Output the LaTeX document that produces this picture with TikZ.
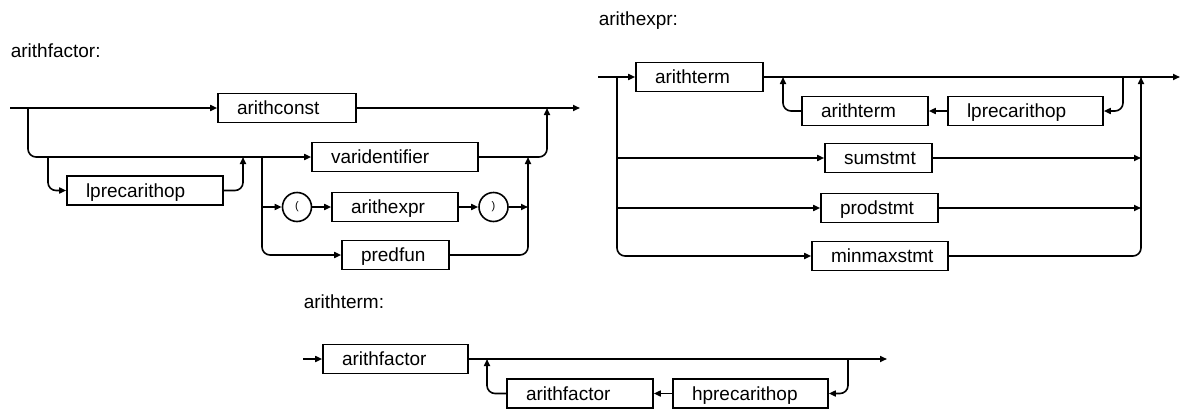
\documentclass[tikz,border=0pt]{standalone}
\usepackage{fontspec}
\setmainfont{Liberation Sans}
\usetikzlibrary{arrows.meta}

\begin{document}
\begin{tikzpicture}[
        x=1pt, y=-1pt,
        line width=1.6pt,
        >={Triangle[length=7pt,width=6pt]},
        ntbox/.style={
            draw=black,
            rectangle,
            align=left,
            inner xsep=19pt,
            inner ysep=0pt,
            minimum height=29pt,
            text height=14pt,
            text depth=1pt,
            font=\fontsize{19}{23}\selectfont
        },
        tmbox/.style={
            draw=black,
            circle,
            minimum size=29pt,
            inner sep=0pt,
            font=\fontsize{11}{13}\selectfont
        },
        rulename/.style={
            anchor=base west,
            inner sep=0pt,
            font=\fontsize{19}{23}\selectfont
        },
        conn/.style={->, rounded corners=8pt}
    ]

    \useasboundingbox (0,0) rectangle (1187,410);

    % arithfactor
    \node[rulename] (tfac) at (10,57) {arithfactor:};
    \node[ntbox, text width=100pt] (aconst) at (287,108)   {arithconst};
    \node[ntbox, text width=118pt] (lpa1)   at (145,190.5) {lprecarithop};
    \node[ntbox, text width=128pt] (vid)    at (395,157)   {varidentifier};
    \node[tmbox]                   (lpar)   at (297,207)   {(};
    \node[ntbox, text width=88pt]  (aexp)   at (395,207)   {arithexpr};
    \node[tmbox]                   (rpar)   at (493.5,207) {)};
    \node[ntbox, text width=69pt]  (pfun)   at (395.5,255) {predfun};

    \coordinate (fa-in)  at (10,108);
    \coordinate (fa-out) at (580,108);
    \coordinate (fa-s1)  at (28,108);
    \coordinate (fa-s2)  at (48,157);
    \coordinate (fa-m1)  at (243,157);
    \coordinate (fa-j1)  at (262,157);
    \coordinate (fa-m2)  at (528,157);
    \coordinate (fa-m3)  at (547,108);

    \draw[->] (fa-in) -- (aconst);
    \draw[->] (aconst) -- (fa-out);
    \draw[conn] (fa-s1) |- (vid.west);
    \draw[conn] (fa-s2) |- (lpa1.west);
    \draw[conn] (lpa1.east) -| (fa-m1);
    \draw[conn] (fa-j1) |- (pfun.west);
    \draw[->] (fa-j1 |- lpar.west) -- (lpar);
    \draw[->] (lpar) -- (aexp);
    \draw[->] (aexp) -- (rpar);
    \draw[->] (rpar.east) -- (rpar.east -| fa-m2);
    \draw[conn] (pfun.east) -| (fa-m2);
    \draw[conn] (vid.east) -| (fa-m3);

    % arithexpr
    \node[rulename] (texp) at (598,25) {arithexpr:};
    \node[ntbox, text width=89pt]  (aterm)  at (699.5,77) {arithterm};
    \node[ntbox, text width=88pt]  (aterm2) at (865,111)  {arithterm};
    \node[ntbox, text width=117pt] (lpa2)   at (1025.5,111) {lprecarithop};
    \node[ntbox, text width=69pt]  (sum)    at (878.5,158) {sumstmt};
    \node[ntbox, text width=79pt]  (prod)   at (879.5,208) {prodstmt};
    \node[ntbox, text width=98pt]  (mmx)    at (880,256)   {minmaxstmt};

    \coordinate (ex-in)  at (598,77);
    \coordinate (ex-out) at (1180,77);
    \coordinate (ex-s)   at (617,77);
    \coordinate (ex-m)   at (1141,77);
    \coordinate (ex-l1)  at (1123,77);
    \coordinate (ex-l2)  at (783,77);

    \draw[->] (ex-in) -- (aterm);
    \draw[->] (aterm) -- (ex-out);
    \draw[conn] (ex-l1) |- (lpa2.east);
    \draw[->] (lpa2) -- (aterm2);
    \draw[conn] (aterm2.west) -| (ex-l2);
    \draw[conn] (ex-s) |- (mmx.west);
    \draw[->] (ex-s |- sum.west) -- (sum.west);
    \draw[->] (ex-s |- prod.west) -- (prod.west);
    \draw[->] (sum.east) -- (sum.east -| ex-m);
    \draw[->] (prod.east) -- (prod.east -| ex-m);
    \draw[conn] (mmx.east) -| (ex-m);

    % arithterm
    \node[rulename] (tterm) at (303,308) {arithterm:};
    \node[ntbox, text width=107pt] (afac1) at (395.5,359) {arithfactor};
    \node[ntbox, text width=108pt] (afac2) at (580,393.5) {arithfactor};
    \node[ntbox, text width=117pt] (hpa)   at (750.5,393.5) {hprecarithop};

    \coordinate (tm-in)  at (303,359);
    \coordinate (tm-out) at (887,359);
    \coordinate (tm-l1)  at (848,359);
    \coordinate (tm-l2)  at (487,359);

    \draw[->] (tm-in) -- (afac1);
    \draw[->] (afac1) -- (tm-out);
    \draw[conn] (tm-l1) |- (hpa.east);
    \draw[->] (hpa) -- (afac2);
    \draw[conn] (afac2.west) -| (tm-l2);

    \end{tikzpicture}
\end{document}
